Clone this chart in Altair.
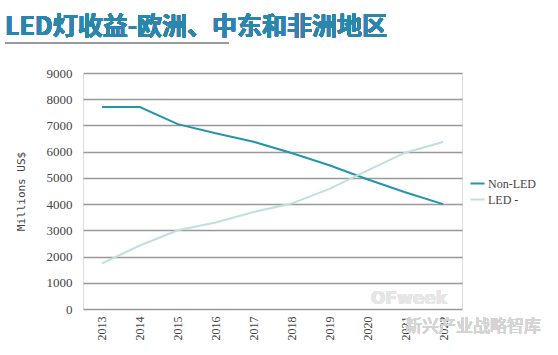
import altair as alt
import pandas as pd

years = ["2013", "2014", "2015", "2016", "2017", "2018", "2019", "2020", "2021", "2022"]
non_led = [7700, 7700, 7050, 6700, 6380, 5950, 5480, 4950, 4450, 4000]
led = [1740, 2420, 3000, 3300, 3700, 4020, 4580, 5280, 5960, 6370]
series_names = ["Non-LED", "LED -"]
colors = ["#2596a8", "#bfe0df"]
title_text = "LED灯收益-欧洲、中东和非洲地区"

rows = []
for y, a, b in zip(years, non_led, led):
    rows.append({"year": y, "series": series_names[0], "value": a})
    rows.append({"year": y, "series": series_names[1], "value": b})
df = pd.DataFrame(rows)

W, H = 379, 236

lines = alt.Chart(df).mark_line(strokeWidth=2).encode(
    x=alt.X("year:O", sort=years, scale=alt.Scale(paddingOuter=0.5),
            axis=alt.Axis(title=None, labelAngle=-90, labelFont="Liberation Serif",
                          labelFontSize=12, labelColor="#444", domain=False, ticks=False,
                          labelPadding=7, grid=False, labelBaseline="middle")),
    y=alt.Y("value:Q", scale=alt.Scale(domain=[0, 9000], nice=False),
            axis=alt.Axis(title="Millions US$", titleFont="DejaVu Sans Mono", titleFontSize=11,
                          titleFontWeight="normal", titleColor="#444", titlePadding=20,
                          values=list(range(0, 9001, 1000)), format="d",
                          labelFont="Liberation Serif",
                          labelFontSize=13, labelColor="#444", domain=False, ticks=False,
                          labelPadding=11, grid=True, gridColor="#999", gridWidth=1.5)),
    color=alt.Color("series:N", scale=alt.Scale(domain=series_names, range=colors),
                    legend=alt.Legend(title=None, orient="none", legendX=386, legendY=102,
                                      symbolType="stroke", symbolSize=200, symbolStrokeWidth=2,
                                      labelFont="Liberation Serif", labelFontSize=12,
                                      labelColor="#444", rowPadding=1, labelOffset=2)),
    order=alt.Order("year:O"),
)

title = alt.Chart(df).mark_text(text=title_text, font="Noto Sans CJK SC", fontSize=25,
                                fontWeight="bold", color="#2a86ad", align="left",
                                baseline="alphabetic").encode(
    x=alt.value(-78), y=alt.value(-38))

underline = alt.Chart(df).mark_rule(color="#9a9a9a", strokeWidth=1.5).encode(
    x=alt.value(-78), x2=alt.value(146), y=alt.value(-30))

watermark = alt.Chart(df).mark_text(text="新兴产业战略智库", font="Noto Sans CJK SC", fontSize=17,
                                    color="#d4d4d4", align="left").encode(
    x=alt.value(322), y=alt.value(254))
watermark2 = alt.Chart(df).mark_text(text="OFweek", font="DejaVu Sans", fontSize=17, fontWeight="bold",
                                     color="#e6e6e6", align="left").encode(
    x=alt.value(288), y=alt.value(226))

chart = alt.layer(watermark2, watermark, lines, title, underline).properties(
    width=W, height=H,
    padding={"left": 83, "top": 73, "right": 96, "bottom": 46},
    autosize=alt.AutoSizeParams(type="none"),
).configure_view(stroke=None).configure(background="white")

chart.save("out.html", embed_options={"renderer": "svg", "actions": False})
